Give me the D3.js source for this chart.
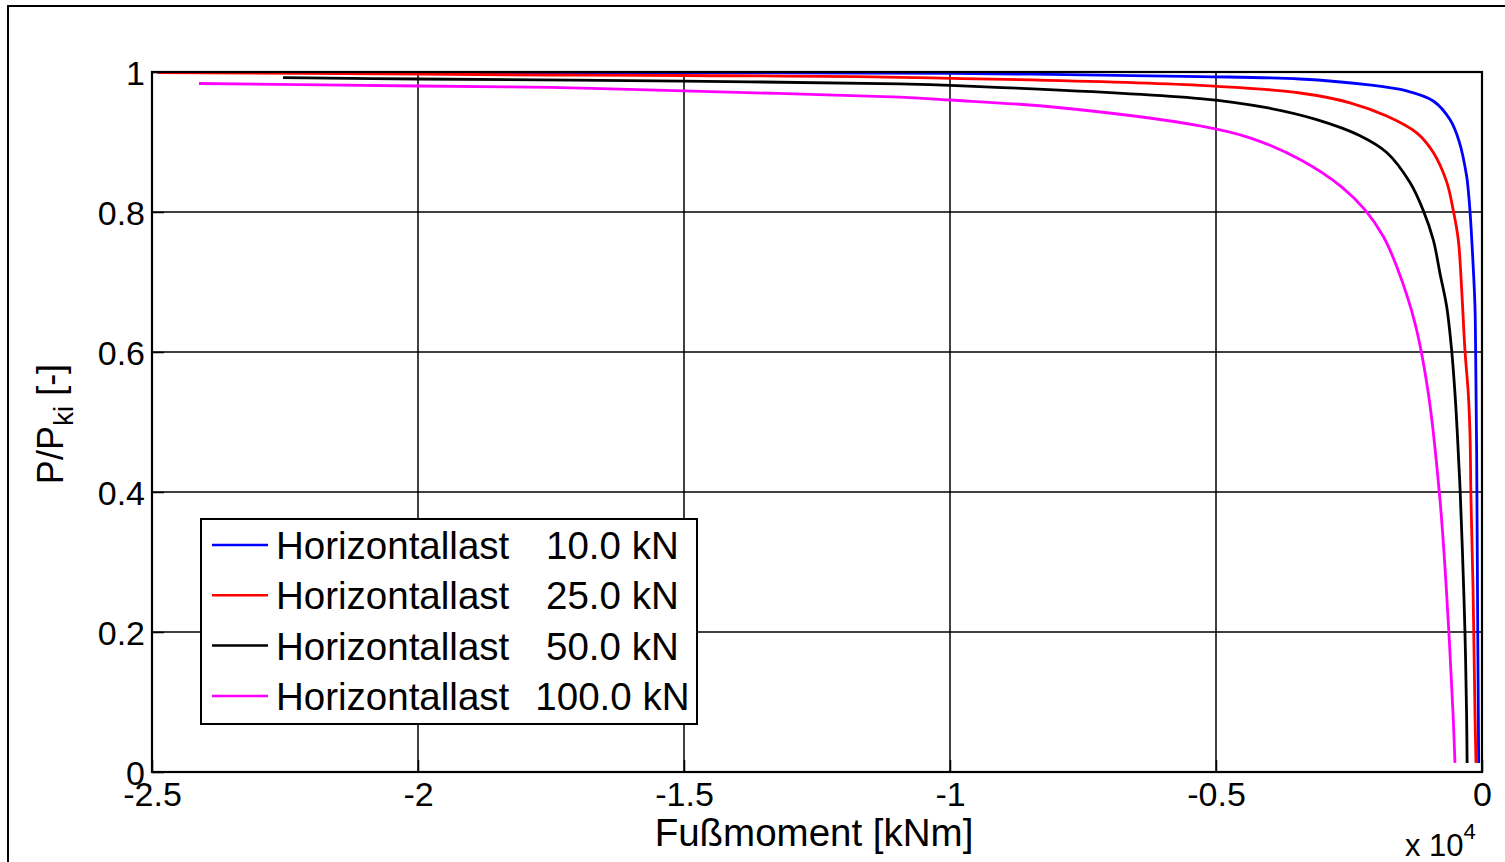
<!DOCTYPE html>
<html>
<head>
<meta charset="utf-8">
<script src="https://cdn.jsdelivr.net/npm/d3@7"></script>
<style>
  html, body { margin: 0; padding: 0; background: #fff; }
  svg { display: block; }
  text { font-family: "Liberation Sans", Arial, sans-serif; fill: #000; }
</style>
</head>
<body>
<svg id="chart" width="1505" height="862"></svg>
<script>
// Foot moment [kNm] vs. load ratio P/Pki for four horizontal loads
const loadsKN = [10, 25, 50, 100];
const seriesColors = ["#0000ff", "#ff0000", "#000000", "#ff00ff"];

const moment10 = [-24900, -20000, -15000, -10000, -5301, -3421, -2167, -1415, -915, -602, -430, -288, -258, -226, -175, -132, -118, -100, -80, -62];
const ratio10  = [0.9995, 0.9993, 0.999, 0.998, 0.9935, 0.990, 0.982, 0.973, 0.9586, 0.932, 0.901, 0.851, 0.831, 0.802, 0.736, 0.665, 0.589, 0.45, 0.2, 0.013];

const moment25 = [-24887, -20000, -17519, -15000, -10940, -5301, -3421, -2481, -1791, -1227, -915, -664, -539, -445, -382, -320, -258, -226, -207, -169, -132, -113];
const ratio25  = [0.999, 0.997, 0.9957, 0.995, 0.9924, 0.981, 0.970, 0.956, 0.937, 0.913, 0.885, 0.843, 0.802, 0.760, 0.689, 0.602, 0.541, 0.484, 0.389, 0.264, 0.084, 0.013];

const moment50 = [-22538, -20000, -15000, -10940, -10000, -5301, -4047, -3107, -2293, -1791, -1353, -1103, -915, -789, -664, -570, -508, -464, -414, -370, -320, -290, -280];
const ratio50  = [0.992, 0.990, 0.987, 0.983, 0.981, 0.962, 0.949, 0.932, 0.909, 0.885, 0.842, 0.802, 0.760, 0.712, 0.665, 0.602, 0.541, 0.484, 0.407, 0.32, 0.199, 0.084, 0.013];

const moment100 = [-24117, -20000, -17519, -15000, -10940, -10000, -8064, -5301, -4361, -3421, -2640, -2199, -1855, -1603, -1259, -1009, -790, -658, -545, -508];
const ratio100  = [0.9836, 0.980, 0.978, 0.973, 0.964, 0.960, 0.950, 0.923, 0.906, 0.875, 0.836, 0.803, 0.765, 0.722, 0.641, 0.541, 0.389, 0.246, 0.084, 0.013];

const xTicks = [-25000, -20000, -15000, -10000, -5000, 0];
const xTickLabels = ["-2.5", "-2", "-1.5", "-1", "-0.5", "0"];
const yTicks = [0, 0.2, 0.4, 0.6, 0.8, 1];
const yTickLabels = ["0", "0.2", "0.4", "0.6", "0.8", "1"];

const moments = [moment10, moment25, moment50, moment100];
const ratios = [ratio10, ratio25, ratio50, ratio100];

const series = loadsKN.map((kn, i) => ({
  name: "Horizontallast",
  value: "  " + kn.toFixed(1).padStart(6, " ") + " kN",
  color: seriesColors[i],
  points: moments[i].map((m, j) => [m, ratios[i][j]])
}));

const svg = d3.select("#chart");
const plot = { left: 152, top: 72, right: 1482, bottom: 772 };

const x = d3.scaleLinear().domain([-25000, 0]).range([plot.left, plot.right]);
const y = d3.scaleLinear().domain([0, 1]).range([plot.bottom, plot.top]);

// outer figure frame
svg.append("rect")
  .attr("x", 8).attr("y", 6).attr("width", 1520).attr("height", 880)
  .attr("fill", "none").attr("stroke", "#000").attr("stroke-width", 2);

// grid
const grid = svg.append("g");
grid.selectAll("line.vx").data(xTicks).join("line")
  .attr("x1", d => x(d)).attr("x2", d => x(d))
  .attr("y1", plot.top).attr("y2", plot.bottom)
  .attr("stroke", "#000").attr("stroke-width", 1.5);
grid.selectAll("line.hy").data(yTicks).join("line")
  .attr("x1", plot.left).attr("x2", plot.right)
  .attr("y1", d => y(d)).attr("y2", d => y(d))
  .attr("stroke", "#000").attr("stroke-width", 1.5);

// axes with tick labels (ticks drawn inward, hidden by grid)
const xAxis = d3.axisBottom(x).tickValues(xTicks)
  .tickFormat((d, i) => xTickLabels[i]).tickSizeInner(-12).tickSizeOuter(0).tickPadding(10);
const yAxis = d3.axisLeft(y).tickValues(yTicks)
  .tickFormat((d, i) => yTickLabels[i]).tickSizeInner(-12).tickSizeOuter(0).tickPadding(7);

const gx = svg.append("g").attr("transform", `translate(0,${plot.bottom})`).call(xAxis);
const gy = svg.append("g").attr("transform", `translate(${plot.left},0)`).call(yAxis);
[gx, gy].forEach(g => {
  g.select(".domain").remove();
  g.selectAll(".tick line").attr("stroke", "#000").attr("stroke-width", 1.5);
  g.selectAll(".tick text").style("font-size", "34px").style("font-family", "'Liberation Sans', Arial, sans-serif").attr("fill", "#000");
});
gy.selectAll(".tick text").attr("dy", "0.36em");
gx.selectAll(".tick text").attr("dy", "0.72em");

// curves
const line = d3.line().x(d => x(d[0])).y(d => y(d[1])).curve(d3.curveCatmullRom.alpha(0.5));
svg.append("g").selectAll("path").data(series).join("path")
  .attr("d", d => line(d.points))
  .attr("fill", "none")
  .attr("stroke", d => d.color)
  .attr("stroke-width", 2.8)
  .attr("stroke-linejoin", "round");

// plot box
svg.append("rect")
  .attr("x", plot.left).attr("y", plot.top)
  .attr("width", plot.right - plot.left).attr("height", plot.bottom - plot.top)
  .attr("fill", "none").attr("stroke", "#000").attr("stroke-width", 2.2);

// axis labels
svg.append("text")
  .attr("x", 814).attr("y", 846)
  .attr("text-anchor", "middle")
  .style("font-size", "38.5px")
  .text("Fußmoment [kNm]");

const yl = svg.append("text")
  .attr("transform", "translate(63,424) rotate(-90)")
  .attr("text-anchor", "middle")
  .style("font-size", "36px");
yl.append("tspan").text("P/P");
yl.append("tspan").attr("dy", 10).style("font-size", "28px").text("ki");
yl.append("tspan").attr("dy", -10).text(" [-]");

// exponent marker
const ex = svg.append("text").attr("x", 1405).attr("y", 856).style("font-size", "31px");
ex.append("tspan").text("x 10");
ex.append("tspan").attr("dy", -17).style("font-size", "22px").text("4");

// legend
const legend = svg.append("g");
legend.append("rect")
  .attr("x", 201).attr("y", 519).attr("width", 496).attr("height", 205)
  .attr("fill", "#fff").attr("stroke", "#000").attr("stroke-width", 2);
const rows = legend.selectAll("g.row").data(series).join("g")
  .attr("transform", (d, i) => `translate(0,${545 + i * 50.3})`);
rows.append("line")
  .attr("x1", 212).attr("x2", 268).attr("y1", 0).attr("y2", 0)
  .attr("stroke", d => d.color).attr("stroke-width", 2.5);
const lt = rows.append("text")
  .attr("x", 276).attr("y", 14)
  .style("font-size", "38.5px")
  .style("white-space", "pre")
  .attr("xml:space", "preserve");
lt.append("tspan").text(d => d.name);
lt.append("tspan").attr("dx", -6).text(d => d.value);
</script>
</body>
</html>
